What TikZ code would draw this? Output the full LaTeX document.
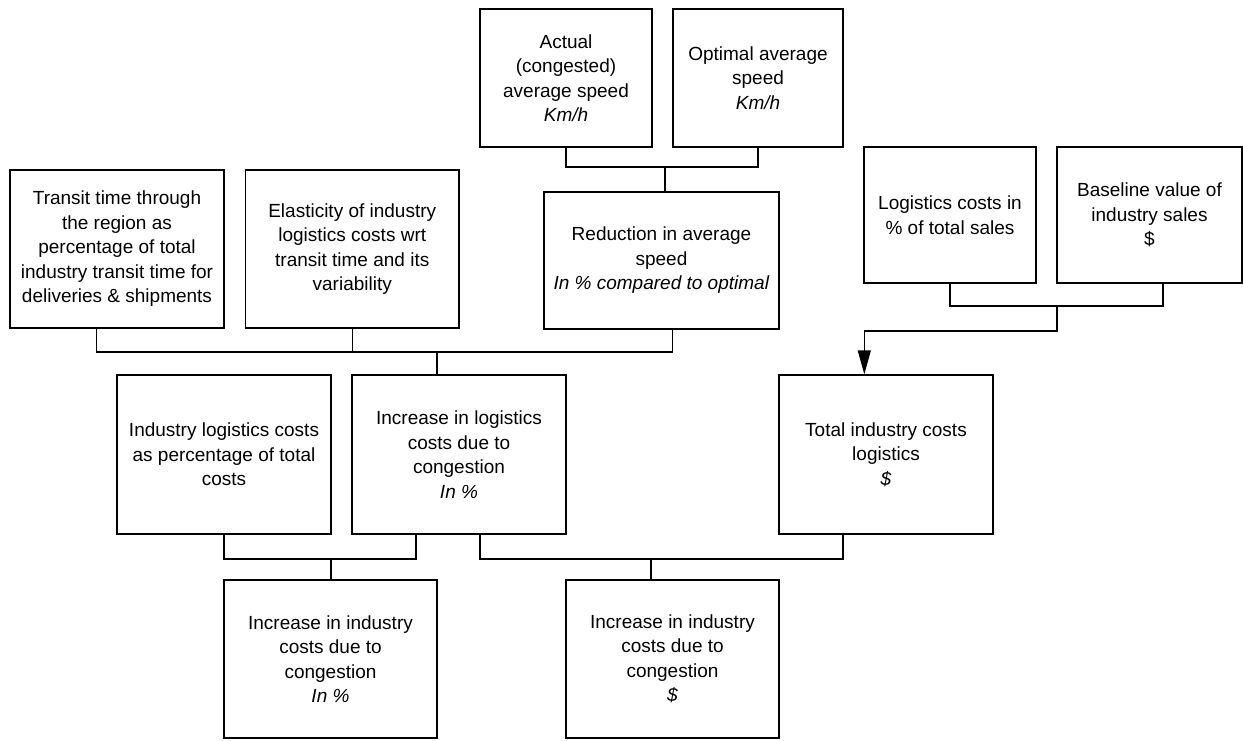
\documentclass[tikz,border=0pt]{standalone}
\usepackage{fontspec}
\setmainfont{Liberation Sans}
\usetikzlibrary{arrows.meta}
\begin{document}
\begin{tikzpicture}[x=1pt,y=1pt,
  box/.style={draw, line width=1.4pt, rectangle, inner sep=0pt, align=center,
    font=\fontsize{19}{24.5}\selectfont},
  conn/.style={line width=1.4pt},
  arr/.style={line width=1.4pt, -{Triangle[length=24pt,width=13pt]}}]
\useasboundingbox (0,0) rectangle (1243,-740);
% boxes: centre x, centre y, width, height
\node[box, minimum width=172, minimum height=138] (A) at (566,-78) {Actual\\(congested)\\average speed\\\textit{Km/h}};
\node[box, minimum width=170, minimum height=138] (B) at (758,-78) {Optimal average\\speed\\\textit{Km/h}};
\node[box, minimum width=214, minimum height=158] (T) at (117,-249) {Transit time through\\the region as\\percentage of total\\industry transit time for\\deliveries \& shipments};
\node[box, minimum width=213.5, minimum height=158] (E) at (352.25,-249) {Elasticity of industry\\logistics costs wrt\\transit time and its\\variability};
\node[box, minimum width=235, minimum height=137] (R) at (661.5,-260.5) {Reduction in average\\speed\\\textit{In \% compared to optimal}};
\node[box, minimum width=172, minimum height=136] (L) at (950,-215) {Logistics costs in\\\% of total sales};
\node[box, minimum width=185, minimum height=136] (BV) at (1149.5,-215) {Baseline value of\\industry sales\\\$};
\node[box, minimum width=213.7, minimum height=159] (IL) at (224,-454.5) {Industry logistics costs\\as percentage of total\\costs};
\node[box, minimum width=213.7, minimum height=159] (IN) at (459,-454.5) {Increase in logistics\\costs due to\\congestion\\\textit{In \%}};
\node[box, minimum width=214, minimum height=159] (TC) at (886,-454.5) {Total industry costs\\logistics\\\textit{\$}};
\node[box, minimum width=213, minimum height=158] (B1) at (330.5,-659) {Increase in industry\\costs due to\\congestion\\\textit{In \%}};
\node[box, minimum width=213, minimum height=158] (B2) at (672.5,-659) {Increase in industry\\costs due to\\congestion\\\textit{\$}};
% junctions
\coordinate (jAB) at (665,-167);
\coordinate (jTER) at (437,-352);
\coordinate (jLB) at (1057,-306);
\coordinate (kTC) at (864.3,-331);
\coordinate (jB1) at (331,-559);
\coordinate (jB2) at (651,-559);
% connectors
\draw[conn] (A.south) |- (jAB) -| (B.south);
\draw[conn] (jAB) -- (jAB |- R.north);
\draw[conn] ([xshift=-20.3pt]T.south) |- (jTER);
\draw[conn] (E.south) -- (E.south |- jTER);
\draw[conn] ([xshift=11.2pt]R.south) |- (jTER);
\draw[conn] (jTER) -- (jTER |- IN.north);
\draw[conn] (L.south) |- (jLB) -| ([xshift=13.5pt]BV.south);
\draw[arr] (jLB) |- (kTC) -- (kTC |- TC.north);
\draw[conn] (IL.south) |- (jB1) -| ([xshift=-43pt]IN.south);
\draw[conn] (jB1) -- (jB1 |- B1.north);
\draw[conn] ([xshift=21pt]IN.south) |- (jB2) -| ([xshift=-43pt]TC.south);
\draw[conn] (jB2) -- (jB2 |- B2.north);
\end{tikzpicture}
\end{document}
